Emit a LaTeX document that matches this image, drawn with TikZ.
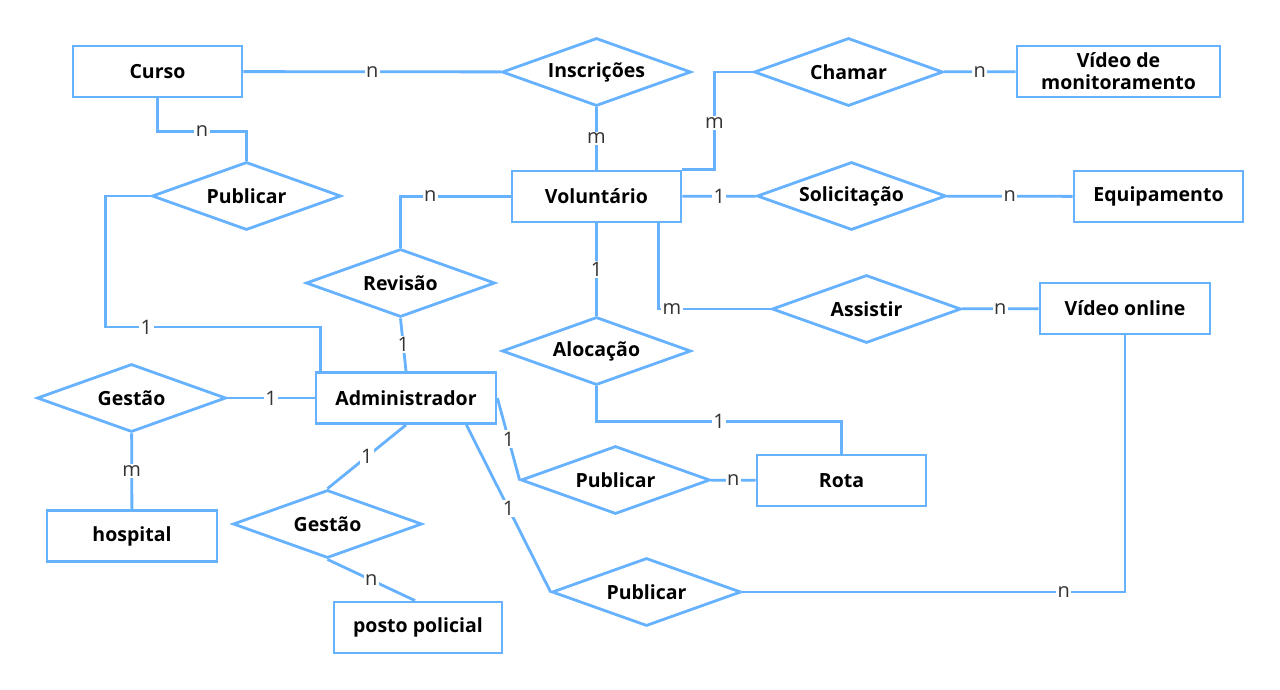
\documentclass[tikz,border=0pt]{standalone}
\usepackage{fontspec}
\setmainfont{Open Sans}
\usetikzlibrary{shapes.geometric,calc}
\definecolor{erblue}{HTML}{66B2FF}
\definecolor{ink}{HTML}{333333}

\begin{document}
\begin{tikzpicture}[x=1pt, y=-1pt,
    ent/.style={draw=erblue, line width=2.8pt, fill=white, minimum width=169pt, minimum height=51pt, inner sep=2pt, align=center, font=\fontsize{19.5}{22}\selectfont\bfseries},
    rel/.style={diamond, draw=erblue, line width=2.8pt, fill=white, minimum width=189pt, minimum height=68pt, inner sep=0pt, aspect=2.78, font=\fontsize{19.5}{22}\selectfont\bfseries},
    link/.style={draw=erblue, line width=2.8pt},
    card/.style={fill=white, inner sep=1.5pt, text=ink, font=\fontsize{20}{22}\selectfont}
  ]
    \fill[white] (0,0) rectangle (1280,689);
    \useasboundingbox (0,0) rectangle (1280,689);

    \node[ent] (curso) at (157.5,71.5) {Curso};
    \node[ent, minimum width=203pt] (vmon) at (1118.5,71.5) {Vídeo de\\monitoramento};
    \node[ent] (vol) at (596.5,196.5) {Voluntário};
    \node[ent] (equip) at (1158.5,196.5) {Equipamento};
    \node[ent, minimum width=170pt] (vonl) at (1125,308.5) {Vídeo online};
    \node[ent, minimum width=180pt] (admin) at (406,398) {Administrador};
    \node[ent] (rota) at (841.5,480.5) {Rota};
    \node[ent, minimum width=170pt] (hosp) at (132,536) {hospital};
    \node[ent, minimum width=168pt] (posto) at (418,627.5) {posto policial};

    \node[rel] (inscr) at (596.5,72) {Inscrições};
    \node[rel] (chamar) at (848.5,72) {Chamar};
    \node[rel] (pubcurso) at (246.5,196) {Publicar};
    \node[rel] (solic) at (851.5,196) {Solicitação};
    \node[rel] (rev) at (400.5,283) {Revisão};
    \node[rel] (assist) at (866.5,309) {Assistir};
    \node[rel] (aloc) at (596.5,351) {Alocação};
    \node[rel] (gesthosp) at (131.5,398) {Gestão};
    \node[rel] (pubrota) at (615.5,480) {Publicar};
    \node[rel] (gestposto) at (327.5,524) {Gestão};
    \node[rel] (pubvideo) at (646.5,592) {Publicar};

    \draw[link] (curso) -- node[card]{n} (inscr);
    \draw[link] (curso.south) -- ++(0,33) -| node[card, pos=0.25]{n} (pubcurso.north);
    \draw[link] (pubcurso.west) -- ++(-45,0) -- ++(0,131) -| node[card, pos=0.095]{1} ([xshift=6pt]admin.north west);
    \draw[link] (inscr) -- node[card]{m} (vol);
    \draw[link] (vol.north east) -- ++(32,0) |- node[card, pos=0.24]{m} (chamar.west);
    \draw[link] (chamar) -- node[card]{n} (vmon);
    \draw[link] (vol) -- node[card]{1} (solic);
    \draw[link] (solic) -- node[card]{n} (equip);
    \draw[link] (vol.west) -| node[card, pos=0.365]{n} (rev.north);
    \draw[link] (rev.south) -- node[card]{1} (admin.north);
    \draw[link] (vol) -- node[card]{1} (aloc);
    \draw[link] ([xshift=-24pt]vol.south east) |- node[card, pos=0.56]{m} (assist.west);
    \draw[link] (assist) -- node[card]{n} (vonl);
    \draw[link] (aloc.south) -- ++(0,35) -| node[card, pos=0.25]{1} (rota.north);
    \draw[link] (gesthosp) -- node[card]{1} (admin);
    \draw[link] (gesthosp) -- node[card]{m} (hosp);
    \draw[link] (admin.south) -- node[card]{1} (gestposto.north);
    \draw[link] (gestposto.south) -- node[card]{n} ([xshift=-3pt]posto.north);
    \draw[link] (admin.east) -- node[card]{1} (pubrota.west);
    \draw[link] (pubrota) -- node[card]{n} (rota);
    \draw[link] ([xshift=-31pt]admin.south east) -- node[card]{1} (pubvideo.west);
    \draw[link] (pubvideo.east) -| node[card, pos=0.42]{n} (vonl.south);
  \end{tikzpicture}
\end{document}
